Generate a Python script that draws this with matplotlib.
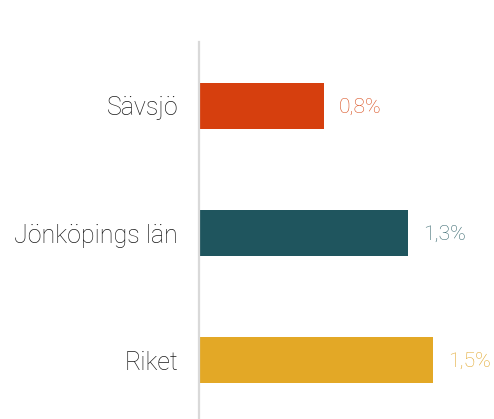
import matplotlib.pyplot as plt

categories = ["Sävsjö", "Jönköpings län", "Riket"]
values = [0.8, 1.34, 1.5]
labels = ["0,8%", "1,3%", "1,5%"]
bar_colors = ["#D63F0E", "#1F555E", "#E3A826"]
text_colors = ["#D9501F", "#3A6970", "#E2A82E"]

W, H = 494, 419
fig = plt.figure(figsize=(W / 100, H / 100), dpi=100)
ax = fig.add_axes([199 / W, -5 / H, (W - 199) / W, (419 - 42 + 5) / H])

fam = ["Roboto", "DejaVu Sans"]
y = list(range(len(categories)))
ax.barh(y, values, height=0.36, color=bar_colors)
ax.set_ylim(len(categories) - 0.5, -0.5)
ax.set_xlim(0, (W - 199) / 155.7)

for yi, v, lab, c in zip(y, values, labels, text_colors):
    ax.annotate(lab, (v, yi), xytext=(11, -1), textcoords="offset points",
                va="center", ha="left", color=c, fontsize=15.2,
                family=fam, fontweight="light")

ax.set_yticks(y)
ax.set_yticklabels(categories, fontsize=18, color="#1A1A1A",
                   family=fam, fontweight="light")
ax.tick_params(axis="y", length=0, pad=15)
ax.set_xticks([])
for s in ["top", "right", "bottom"]:
    ax.spines[s].set_visible(False)
ax.spines["left"].set_color("#D9D9D9")
ax.spines["left"].set_linewidth(1.6)

fig.savefig("out.png", dpi=100)
